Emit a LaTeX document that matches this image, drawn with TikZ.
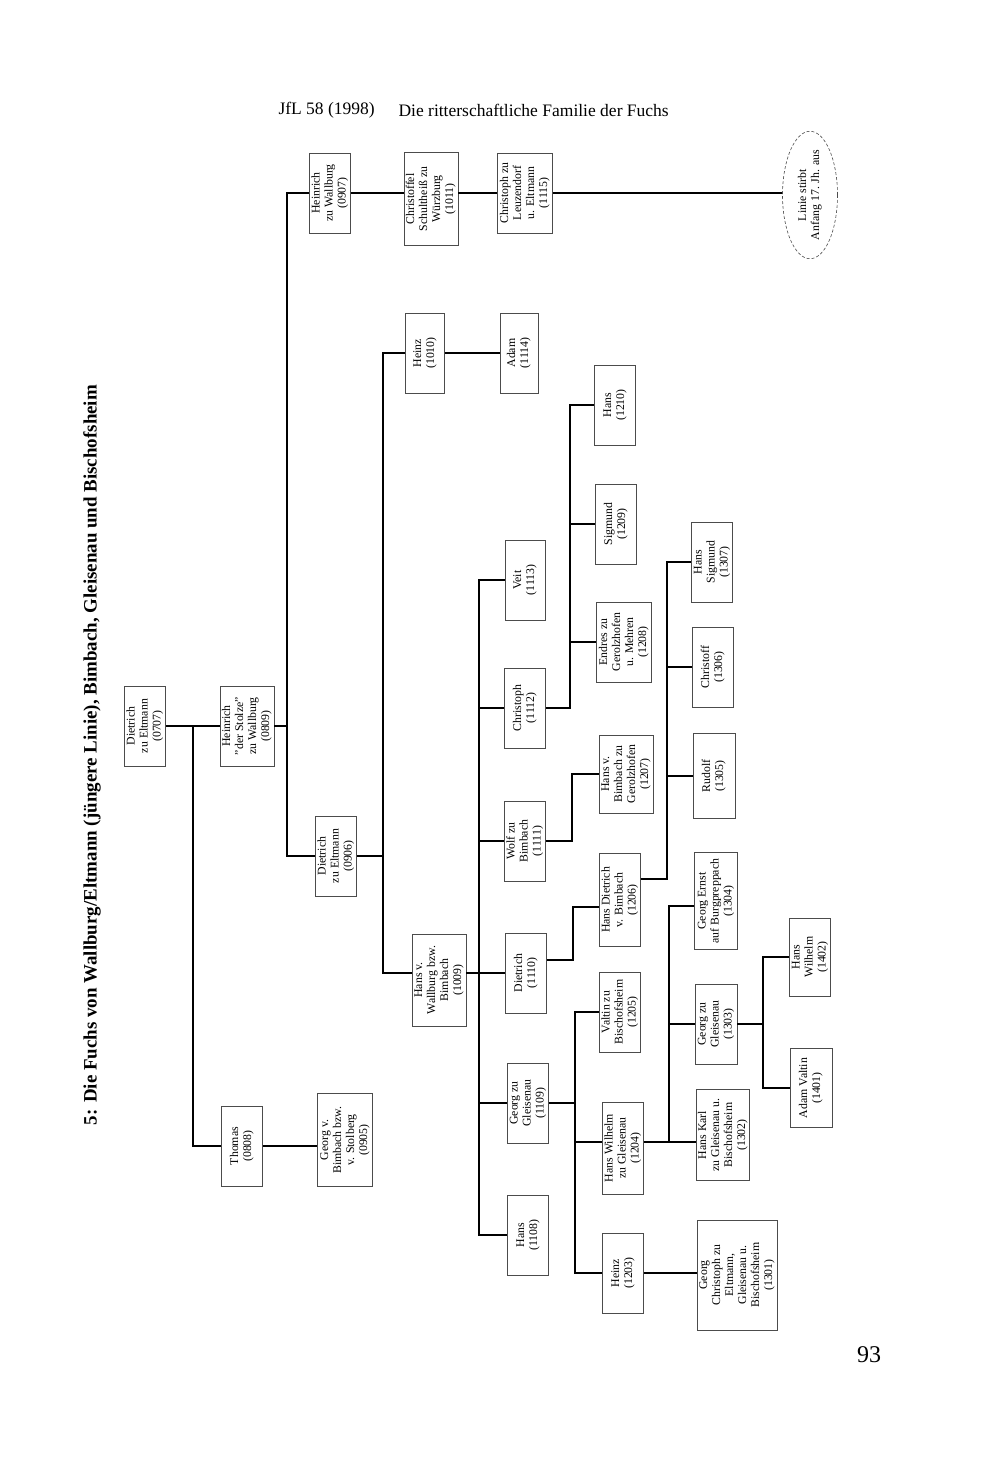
\documentclass[tikz,border=0pt]{standalone}
\usepackage{fontspec}
\setmainfont{Liberation Serif}
\usetikzlibrary{shapes.geometric}
\newcommand{\vtxt}[1]{\rotatebox{90}{\begin{tabular}{@{}c@{}}#1\end{tabular}}}
\tikzset{
  box/.style={draw=black!70, line width=0.6pt, inner sep=0pt, font=\fontsize{11.8}{13}\selectfont},
  conn/.style={line width=1.6pt, black},
}
\begin{document}
\begin{tikzpicture}[x=1pt, y=-1pt]
\useasboundingbox (0,0) rectangle (1000,1482);
\fill[white] (0,0) rectangle (1000,1482);

% header, title, page number
\node[anchor=west, font=\fontsize{17.5}{20}\selectfont] (hdr1) at (275,110) {JfL 58 (1998)};
\node[anchor=west, font=\fontsize{17.5}{20}\selectfont] (hdr2) at (395,110) {Die ritterschaftliche Familie der Fuchs};
\node[rotate=90, font=\bfseries] (title) at (92,755) {\resizebox{740pt}{!}{5: Die Fuchs von Wallburg/Eltmann (jüngere Linie), Bimbach, Gleisenau und Bischofsheim}};
\node[font=\fontsize{24}{28}\selectfont] (pg) at (869,1355) {93};

% generation 07/08/09
\node[box, minimum width=41pt, minimum height=80pt] (n0707) at (145,726) {\vtxt{Dietrich\\zu Eltmann\\(0707)}};
\node[box, minimum width=54pt, minimum height=80pt] (n0809) at (247,726) {\vtxt{Heinrich\\"der Stolze"\\zu Wallburg\\(0809)}};
\node[box, minimum width=41pt, minimum height=80pt] (n0808) at (242,1146) {\vtxt{Thomas\\(0808)}};
\node[box, minimum width=55pt, minimum height=93pt] (n0905) at (345,1140) {\vtxt{Georg v.\\Bimbach bzw.\\v. Stolberg\\(0905)}};
\node[box, minimum width=41pt, minimum height=80pt] (n0906) at (336,856) {\vtxt{Dietrich\\zu Eltmann\\(0906)}};
\node[box, minimum width=41pt, minimum height=80pt] (n0907) at (330,193) {\vtxt{Heinrich\\zu Wallburg\\(0907)}};

% generation 10/11 top line
\node[box, minimum width=54pt, minimum height=93pt] (n1011) at (431,199) {\vtxt{Christoffel\\Schultheiß zu\\Würzburg\\(1011)}};
\node[box, minimum width=55pt, minimum height=80pt] (n1115) at (525,193) {\vtxt{Christoph zu\\Leuzendorf\\u. Eltmann\\(1115)}};
\node[ellipse, draw=black!70, densely dashed, line width=0.6pt, inner sep=0pt, minimum width=55pt, minimum height=104pt, font=\fontsize{11.8}{13}\selectfont] (ell) at (810,195) {\vtxt{Linie stirbt\\Anfang 17. Jh. aus}};

\node[box, minimum width=39pt, minimum height=80pt] (n1010) at (425,353) {\vtxt{Heinz\\(1010)}};
\node[box, minimum width=38pt, minimum height=80pt] (n1114) at (519,353) {\vtxt{Adam\\(1114)}};
\node[box, minimum width=54pt, minimum height=92pt] (n1009) at (439,980) {\vtxt{Hans v.\\Wallburg bzw.\\Bimbach\\(1009)}};

% generation 11
\node[box, minimum width=40pt, minimum height=80pt] (n1113) at (525,580) {\vtxt{Veit\\(1113)}};
\node[box, minimum width=41pt, minimum height=80pt] (n1112) at (525,708) {\vtxt{Christoph\\(1112)}};
\node[box, minimum width=41pt, minimum height=80pt] (n1111) at (525,841) {\vtxt{Wolf zu\\Bimbach\\(1111)}};
\node[box, minimum width=41pt, minimum height=80pt] (n1110) at (526,973) {\vtxt{Dietrich\\(1110)}};
\node[box, minimum width=41pt, minimum height=80pt] (n1109) at (528,1103) {\vtxt{Georg zu\\Gleisenau\\(1109)}};
\node[box, minimum width=41pt, minimum height=80pt] (n1108) at (528,1235) {\vtxt{Hans\\(1108)}};

% generation 12
\node[box, minimum width=41pt, minimum height=80pt] (n1210) at (615,405) {\vtxt{Hans\\(1210)}};
\node[box, minimum width=41pt, minimum height=80pt] (n1209) at (616,524) {\vtxt{Sigmund\\(1209)}};
\node[box, minimum width=55pt, minimum height=80pt] (n1208) at (624,642) {\vtxt{Endres zu\\Gerolzhofen\\u. Mehren\\(1208)}};
\node[box, minimum width=54pt, minimum height=78pt] (n1207) at (626,774) {\vtxt{Hans v.\\Bimbach zu\\Gerolzhofen\\(1207)}};
\node[box, minimum width=41pt, minimum height=93pt] (n1206) at (620,900) {\vtxt{Hans Dietrich\\v. Bimbach\\(1206)}};
\node[box, minimum width=41pt, minimum height=80pt] (n1205) at (620,1012) {\vtxt{Valtin zu\\Bischofsheim\\(1205)}};
\node[box, minimum width=41pt, minimum height=92pt] (n1204) at (623,1148) {\vtxt{Hans Wilhelm\\zu Gleisenau\\(1204)}};
\node[box, minimum width=41pt, minimum height=80pt] (n1203) at (623,1273) {\vtxt{Heinz\\(1203)}};

% generation 13
\node[box, minimum width=41pt, minimum height=80pt] (n1307) at (712,562) {\vtxt{Hans\\Sigmund\\(1307)}};
\node[box, minimum width=41pt, minimum height=80pt] (n1306) at (713,667) {\vtxt{Christoff\\(1306)}};
\node[box, minimum width=42pt, minimum height=85pt] (n1305) at (714,776) {\vtxt{Rudolf\\(1305)}};
\node[box, minimum width=43pt, minimum height=97pt] (n1304) at (716,901) {\vtxt{Georg Ernst\\auf Burgpreppach\\(1304)}};
\node[box, minimum width=42pt, minimum height=80pt] (n1303) at (716,1024) {\vtxt{Georg zu\\Gleisenau\\(1303)}};
\node[box, minimum width=53pt, minimum height=91pt] (n1302) at (723,1135) {\vtxt{Hans Karl\\zu Gleisenau u.\\Bischofsheim\\(1302)}};
\node[box, minimum width=80pt, minimum height=110pt] (n1301) at (737,1275) {\vtxt{Georg\\Christoph zu\\Eltmann,\\Gleisenau u.\\Bischofsheim\\(1301)}};

% generation 14
\node[box, minimum width=41pt, minimum height=78pt] (n1402) at (810,957) {\vtxt{Hans\\Wilhelm\\(1402)}};
\node[box, minimum width=42pt, minimum height=79pt] (n1401) at (811,1088) {\vtxt{Adam Valtin\\(1401)}};

% junction coordinates
\coordinate (j0) at (193,726);
\coordinate (j1) at (287,726);
\coordinate (j2) at (383,856);
\coordinate (j3) at (383,973);
\coordinate (k1) at (479,973);
\coordinate (k2) at (570,708);
\coordinate (k3) at (572,841);
\coordinate (k4) at (573,960);
\coordinate (k5) at (573,907);
\coordinate (k6) at (667,879);
\coordinate (k7) at (575,1103);
\coordinate (k8) at (669,1142);
\coordinate (k9) at (669,906);
\coordinate (k10) at (763,1024);

% connectors
\draw[conn] (n0707.east) -- (n0809.west);
\draw[conn] (j0) |- (n0808.west);
\draw[conn] (n0808.east) -- (n0905.west |- n0808.east);
\draw[conn] (n0809.east) -- (j1);
\draw[conn] (n0907.west) -| (j1) |- (n0906.west);
\draw[conn] (n0907.east) -- (n1011.west |- n0907.east);
\draw[conn] (n1011.east |- n0907.east) -- (n1115.west);
\draw[conn] (n1115.east) -- (ell.west |- n1115.east);
\draw[conn] (n0906.east) -- (j2);
\draw[conn] (n1010.west) -| (j3) -- (j3 -| n1009.west);
\draw[conn] (n1010.east) -- (n1114.west);
\draw[conn] (n1009.east |- k1) -- (k1) -- (n1110.west);
\draw[conn] (n1113.west) -| (k1) |- (n1108.west);
\draw[conn] (k1 |- n1112.west) -- (n1112.west);
\draw[conn] (k1 |- n1111.west) -- (n1111.west);
\draw[conn] (k1 |- n1109.west) -- (n1109.west);
\draw[conn] (n1112.east) -- (k2) |- (n1210.west);
\draw[conn] (k2 |- n1209.west) -- (n1209.west);
\draw[conn] (k2 |- n1208.west) -- (n1208.west);
\draw[conn] (n1111.east) -- (k3) |- (n1207.west);
\draw[conn] (n1110.east |- k4) -- (k4) -- (k5) -- (k5 -| n1206.west);
\draw[conn] (n1206.east |- k6) -- (k6) |- (n1307.west);
\draw[conn] (k6 |- n1306.west) -- (n1306.west);
\draw[conn] (k6 |- n1305.west) -- (n1305.west);
\draw[conn] (n1109.east) -- (k7);
\draw[conn] (n1205.west) -| (k7) |- (n1203.west);
\draw[conn] (k7 |- k8) -- (n1204.west |- k8);
\draw[conn] (n1204.east |- k8) -- (k8) -- (n1302.west |- k8);
\draw[conn] (k9 -| n1304.west) -- (k9) -- (k8);
\draw[conn] (k9 |- n1303.west) -- (n1303.west);
\draw[conn] (n1203.east) -- (n1301.west |- n1203.east);
\draw[conn] (n1303.east) -- (k10);
\draw[conn] (n1402.west) -| (k10) |- (n1401.west);
\end{tikzpicture}
\end{document}
